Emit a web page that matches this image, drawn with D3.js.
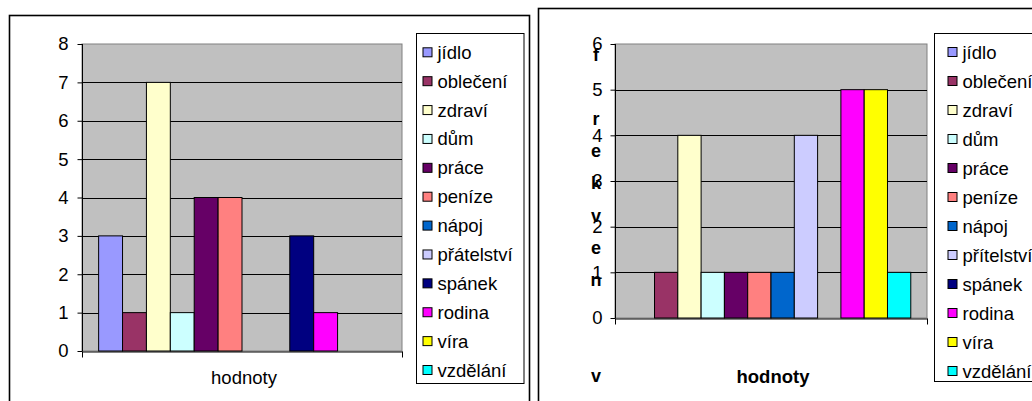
<!DOCTYPE html>
<html>
<head>
<meta charset="utf-8">
<script src="https://cdn.jsdelivr.net/npm/d3@7"></script>
<style>
  html, body { margin: 0; padding: 0; background: #fff; }
  svg { display: block; font-family: "Liberation Sans", Arial, sans-serif; }
</style>
</head>
<body>
<svg id="chart" width="1032" height="401"></svg>
<script>
// ---------- data ----------
const categories = ["hodnoty"];
const seriesLeft = ["jídlo", "oblečení", "zdraví", "dům", "práce", "peníze", "nápoj", "přátelství", "spánek", "rodina", "víra", "vzdělání"];
const seriesRight = ["jídlo", "oblečení", "zdraví", "dům", "práce", "peníze", "nápoj", "přítelství", "spánek", "rodina", "víra", "vzdělání"];
const valuesLeft = [3, 1, 7, 1, 4, 4, 0, 0, 3, 1, 0, 0];
const valuesRight = [0, 1, 4, 1, 1, 1, 1, 4, 0, 5, 5, 1];
const seriesColors = ["#9999FF", "#993366", "#FFFFCC", "#CCFFFF", "#660066", "#FF8080", "#0066CC", "#CCCCFF", "#000080", "#FF00FF", "#FFFF00", "#00FFFF"];
const ticksLeft = [0, 1, 2, 3, 4, 5, 6, 7, 8];
const ticksRight = [0, 1, 2, 3, 4, 5, 6];
const rightTitleLines = ["f", "", "r", "e", "k", "v", "e", "n", "", "", "v"];

// ---------- drawing ----------
const svg = d3.select("#chart");
svg.append("rect").attr("width", 1032).attr("height", 401).attr("fill", "#fff");

function drawChart(cfg) {
  const g = svg.append("g");
  // outer chart border
  g.append("rect")
    .attr("x", cfg.frame[0]).attr("y", cfg.frame[1])
    .attr("width", cfg.frame[2]).attr("height", cfg.frame[3])
    .attr("fill", "#fff").attr("stroke", "#000").attr("stroke-width", 1.6);

  const [pl, pt, pr, pb] = cfg.plot;
  const y = d3.scaleLinear().domain([0, cfg.ymax]).range([pb, pt]);
  const x0 = d3.scaleBand().domain(categories).range([pl, pr]).paddingInner(0).paddingOuter(0.058);
  const x1 = d3.scaleBand().domain(cfg.series).range([0, x0.bandwidth()]).padding(0);

  // plot area
  g.append("rect").attr("x", pl).attr("y", pt).attr("width", pr - pl).attr("height", pb - pt)
    .attr("fill", "#C0C0C0").attr("stroke", "#808080").attr("stroke-width", 1);

  // gridlines
  g.append("g").selectAll("line").data(cfg.ticks.filter(t => t > 0 && t < cfg.ymax)).join("line")
    .attr("x1", pl).attr("x2", pr)
    .attr("y1", d => Math.round(y(d)) + 0.5).attr("y2", d => Math.round(y(d)) + 0.5)
    .attr("stroke", "#000").attr("stroke-width", 1);

  // bars
  const data = cfg.series.map((s, i) => ({ s, v: cfg.values[i], c: seriesColors[i] }));
  g.append("g").selectAll("rect").data(data.filter(d => d.v > 0)).join("rect")
    .attr("x", d => x0(categories[0]) + x1(d.s))
    .attr("y", d => y(d.v))
    .attr("width", x1.bandwidth())
    .attr("height", d => y(0) - y(d.v))
    .attr("fill", d => d.c).attr("stroke", "#000").attr("stroke-width", 1);

  // y axis
  const yAxis = d3.axisLeft(y).tickValues(cfg.ticks).tickFormat(d3.format("d"))
    .tickSize(5).tickPadding(cfg.tickPad);
  const ya = g.append("g").attr("transform", `translate(${pl + 0.5},0)`).call(yAxis);
  ya.select(".domain").attr("stroke", "#000").attr("d", `M0,${pt}V${pb}`);
  ya.selectAll(".tick line").attr("stroke", "#000");
  ya.selectAll(".tick text").attr("fill", "#000").attr("font-size", 18.5)
    .attr("font-family", "Liberation Sans, Arial, sans-serif");

  // x axis (line with end ticks)
  const xl = d3.scaleLinear().domain([0, 1]).range([pl, pr]);
  const xa = g.append("g").attr("transform", `translate(0,${Math.round(pb) + 0.5})`)
    .call(d3.axisBottom(xl).tickValues([0, 1]).tickSize(6).tickSizeOuter(0).tickFormat(""));
  xa.select(".domain").attr("stroke", "#000");
  xa.selectAll(".tick line").attr("stroke", "#000");

  // category label
  g.append("text").attr("x", x0(categories[0]) + x0.bandwidth() / 2 + 2).attr("y", cfg.catY)
    .attr("text-anchor", "middle").attr("font-size", 18.5)
    .attr("font-weight", cfg.catBold ? "bold" : "normal")
    .text(categories[0]);

  // legend
  const [lx, ly, lw, lh] = cfg.legend;
  g.append("rect").attr("x", lx).attr("y", ly).attr("width", lw).attr("height", lh)
    .attr("fill", "#fff").attr("stroke", "#000").attr("stroke-width", 1);
  const rowY = d3.scalePoint().domain(cfg.series).range([cfg.legendRows[0], cfg.legendRows[1]]);
  const items = g.append("g").selectAll("g").data(data).join("g")
    .attr("transform", d => `translate(${lx + cfg.legendPad},${rowY(d.s)})`);
  items.append("rect").attr("x", 0.5).attr("y", -4.5).attr("width", 9).attr("height", 9)
    .attr("fill", d => d.c).attr("stroke", "#000").attr("stroke-width", 1);
  items.append("text").attr("x", 15).attr("y", 6.5).attr("font-size", 18.5).attr("fill", "#000")
    .text(d => d.s);
  return { g, y };
}

// left chart
drawChart({
  frame: [9.5, 15.5, 520, 400],
  plot: [82, 44, 402, 351],
  ymax: 8, ticks: ticksLeft, tickPad: 9,
  series: seriesLeft, values: valuesLeft,
  catY: 384, catBold: false,
  legend: [416.5, 33.5, 107.5, 350],
  legendRows: [52.3, 370], legendPad: 6
});

// right chart
const right = drawChart({
  frame: [538.5, 8.5, 600, 400],
  plot: [615, 44, 927, 318],
  ymax: 6, ticks: ticksRight, tickPad: 8,
  series: seriesRight, values: valuesRight,
  catY: 383, catBold: true,
  legend: [934.5, 33.5, 200, 348],
  legendRows: [52, 371], legendPad: 13
});

// right y axis title: stacked bold letters
const titleY = d3.scalePoint().domain(d3.range(rightTitleLines.length)).range([61, 382]);
right.g.append("g").selectAll("text").data(rightTitleLines).join("text")
  .attr("x", 596).attr("y", (d, i) => titleY(i))
  .attr("text-anchor", "middle").attr("font-size", 18).attr("font-weight", "bold")
  .text(d => d);
</script>
</body>
</html>
